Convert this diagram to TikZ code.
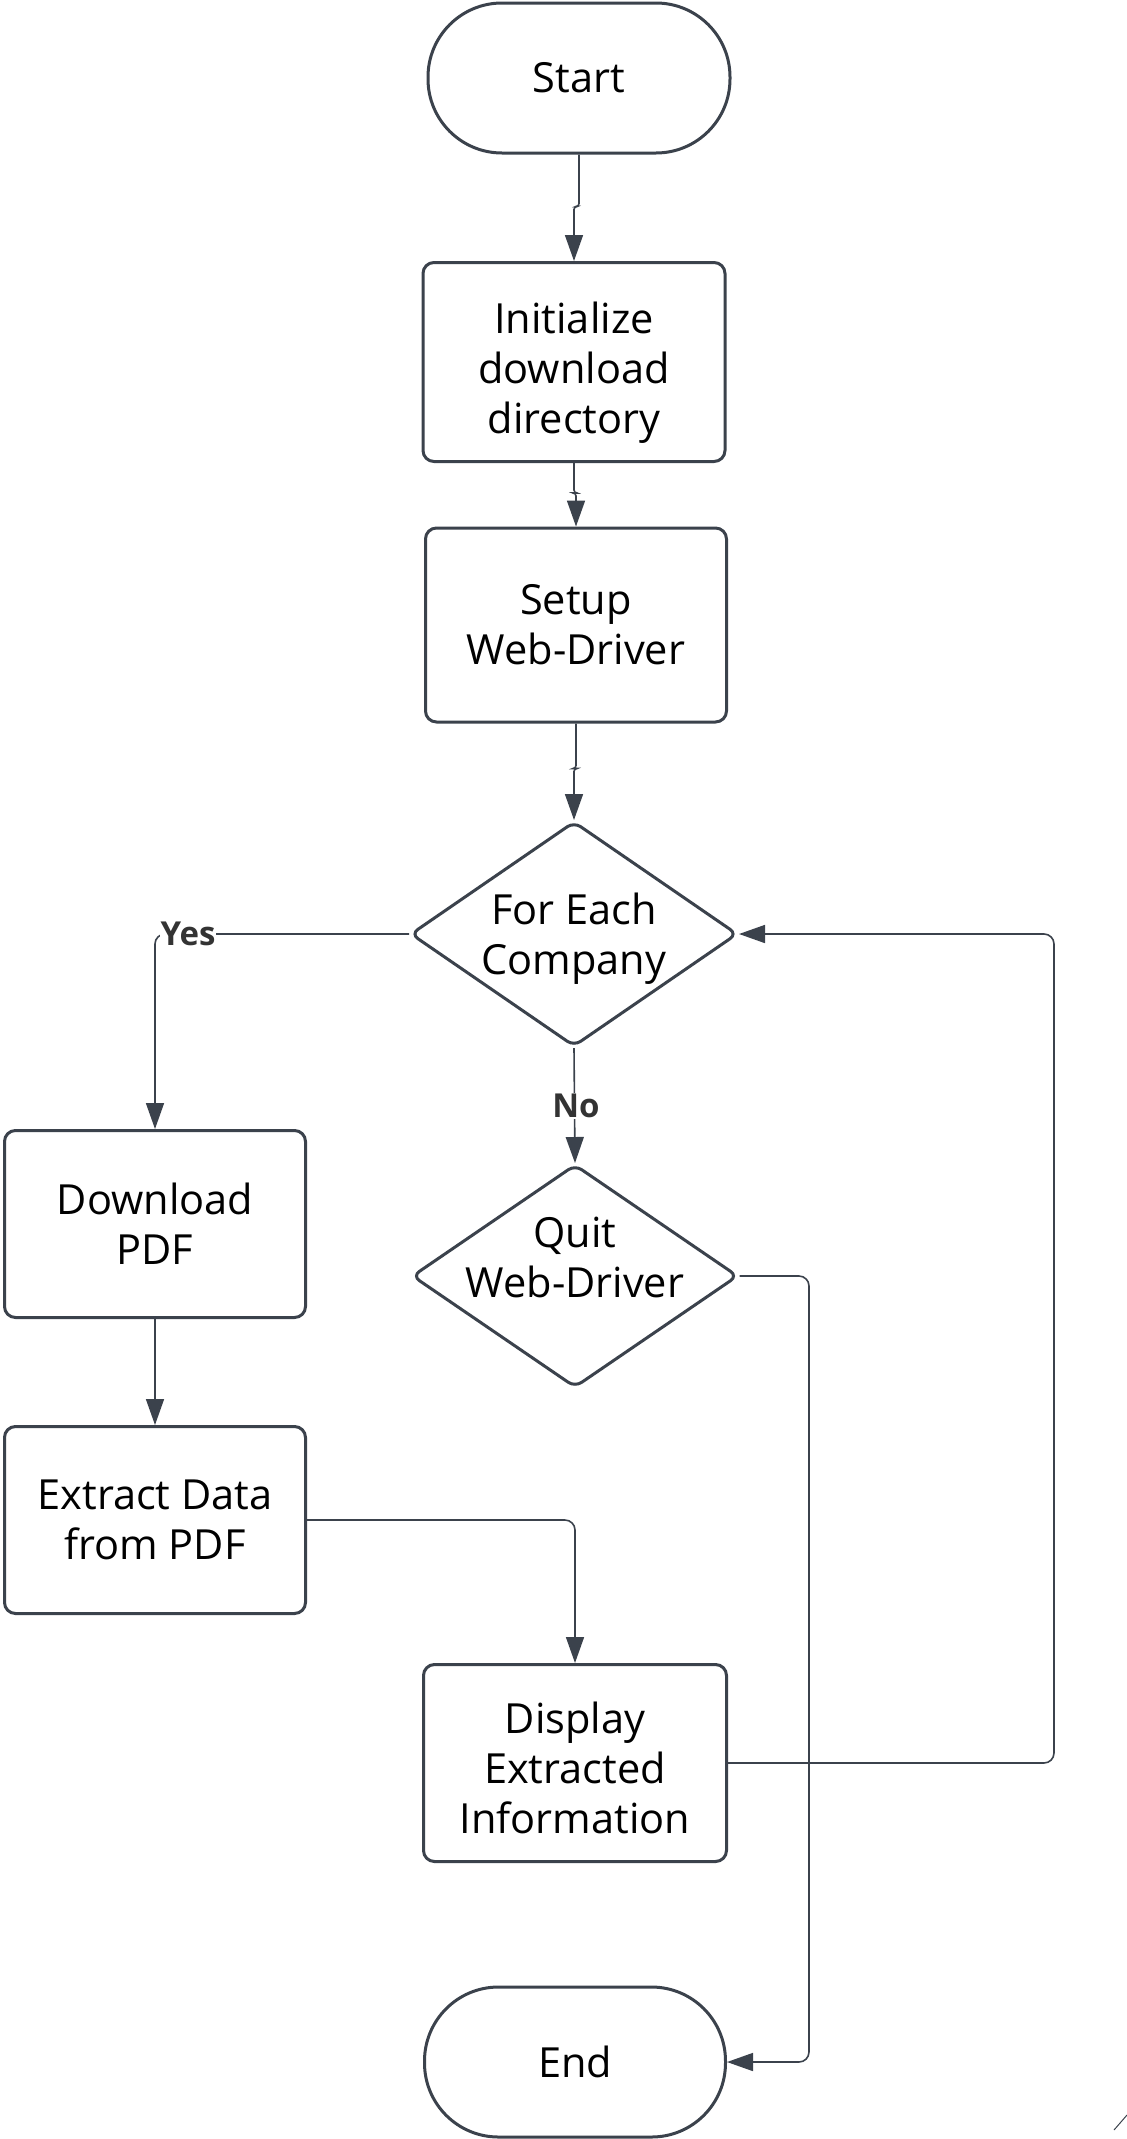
\documentclass[tikz,border=0pt]{standalone}
\usepackage{fontspec}
\setmainfont{Open Sans}
\usetikzlibrary{shapes.geometric,arrows.meta,calc}
\definecolor{strk}{HTML}{3B424C}
\definecolor{lblc}{HTML}{333333}
\newcommand{\uppad}[1]{\rule{0pt}{#1}}
\begin{document}
\begin{tikzpicture}[x=1pt,y=-1pt,
  base/.style={draw=strk,line width=3pt,fill=white,inner sep=0pt,align=center,
    font=\fontsize{41.5}{50}\selectfont,text=black},
  procbox/.style={base,rectangle,rounded corners=11pt},
  termbox/.style={base,rectangle,rounded corners=74pt},
  decbox/.style={base,diamond,rounded corners=8pt,aspect=1.45},
  dectext/.style={inner sep=0pt,align=center,font=\fontsize{41.5}{50}\selectfont,text=black},
  conn/.style={draw=strk,line width=1.6pt,rounded corners=10pt,
    -{Triangle[length=26pt,width=18pt]}},
  lbl/.style={fill=white,inner sep=1pt,text=lblc,font=\fontsize{33}{36}\selectfont\bfseries}
]
\useasboundingbox (0,0) rectangle (1127,2139);

\node[termbox,minimum width=302pt,minimum height=150pt] (start) at (579,78) {Start};
\node[procbox,minimum width=302pt,minimum height=199pt] (init) at (574,362) {\uppad{52pt}Initialize\\download\\directory};
\node[procbox,minimum width=301pt,minimum height=194pt] (setup) at (576,625) {Setup\\Web-Driver};
\node[decbox,minimum width=327pt,minimum height=225pt] (dia) at (574,934) {};
\node[dectext] (diatext) at ($(dia.center)+(0,5)$) {For Each\\Company};
\node[procbox,minimum width=301pt,minimum height=187pt] (down) at (155,1224) {Download\\PDF};
\node[procbox,minimum width=301pt,minimum height=187pt] (extract) at (155,1520) {Extract Data\\from PDF};
\node[decbox,minimum width=326pt,minimum height=223pt] (quit) at (575,1276) {};
\node[dectext] (quittext) at ($(quit.center)+(0,-19)$) {Quit\\Web-Driver};
\node[procbox,minimum width=303pt,minimum height=197pt] (display) at (575,1763) {\uppad{41pt}Display\\Extracted\\Information};
\node[termbox,minimum width=301pt,minimum height=150pt] (end) at (575,2062) {End};

\coordinate (qr) at (809,1276);
\coordinate (dr) at (1054,1763);

\draw[conn,rounded corners=3pt] (start.south) -- ++(0,52) -| (init.north);
\draw[conn,rounded corners=3pt] (init.south) -- ++(0,30) -| (setup.north);
\draw[conn,rounded corners=3pt] (setup.south) -- ++(0,45) -| (dia.north);
\draw[conn] (dia.west) -| (down.north);
\node[lbl] (yes) at (188,934) {Yes};
\draw[conn] (down.south) -- (extract.north);
\draw[conn] (extract.east) -| (display.north);
\draw[conn] (dia.south) -- (quit.north);
\node[lbl] (no) at (576,1106) {No};
\draw[conn] (quit.east) -- (qr) |- (end.east);
\draw[conn] (display.east) -- (dr) |- (dia.east);

\draw[strk,line width=1pt] (1114,2130) -- (1127,2115);
\end{tikzpicture}
\end{document}
